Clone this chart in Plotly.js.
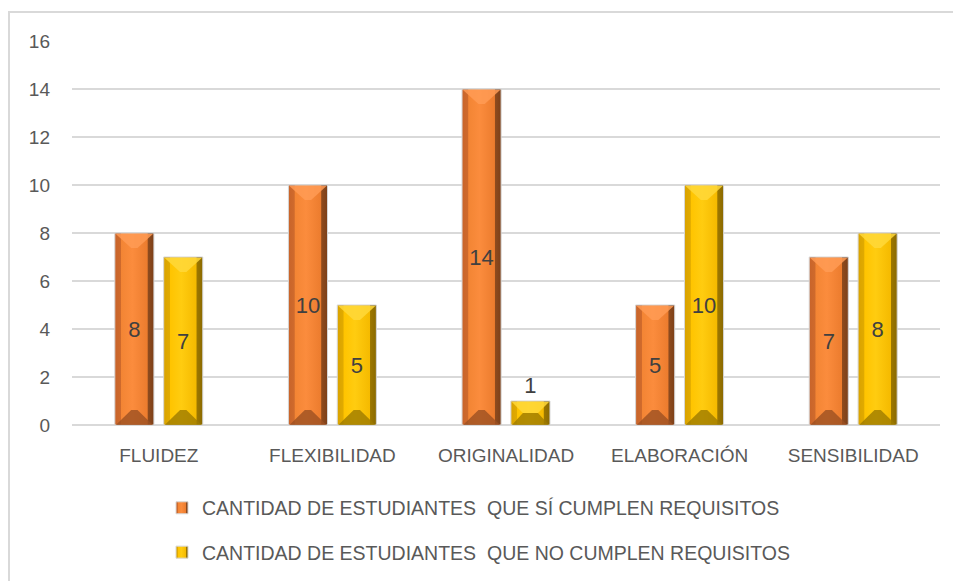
<!DOCTYPE html>
<html>
<head>
<meta charset="utf-8">
<script src="https://cdn.plot.ly/plotly-3.0.1.min.js"></script>
<style>
  html, body { margin: 0; padding: 0; background: #ffffff; overflow: hidden; }
  #chart { width: 953px; height: 581px; position: relative; }
  #frame { position: absolute; left: 8px; top: 11px; width: 2000px; height: 2000px;
           border-left: 2px solid #d9d9d9; border-top: 2px solid #d9d9d9; pointer-events: none; }
</style>
</head>
<body>
<div id="chart"></div>
<div id="frame"></div>
<script>
const categories = ["FLUIDEZ", "FLEXIBILIDAD", "ORIGINALIDAD", "ELABORACIÓN", "SENSIBILIDAD"];
const cumplen = [8, 10, 14, 5, 7];
const noCumplen = [7, 5, 1, 10, 8];
const seriesNames = [
  "CANTIDAD DE ESTUDIANTES  QUE SÍ CUMPLEN REQUISITOS",
  "CANTIDAD DE ESTUDIANTES  QUE NO CUMPLEN REQUISITOS"
];
const yTicks = [0, 2, 4, 6, 8, 10, 12, 14, 16];

const FONT = "Liberation Sans, Arial, sans-serif";
const textColor = "#404040";

const traceA = {
  type: "bar", x: categories, y: cumplen, name: seriesNames[0], legendgroup: "a",
  marker: { color: "#F0802F", line: { color: "#d6d6d6", width: 1 } },
  text: cumplen.map(String), textposition: "inside", insidetextanchor: "middle",
  textfont: { family: FONT, size: 22, color: textColor }, constraintext: "none",
  hoverinfo: "skip"
};
const traceB = {
  type: "bar", x: categories, y: noCumplen, name: seriesNames[1], legendgroup: "b",
  marker: { color: "#FFC000", line: { color: "#d6d6d6", width: 1 } },
  text: noCumplen.map(String),
  textposition: noCumplen.map(v => v < 2 ? "outside" : "inside"), insidetextanchor: "middle",
  textfont: { family: FONT, size: 22, color: textColor }, constraintext: "none",
  cliponaxis: false, hoverinfo: "skip"
};

const layout = {
  width: 953, height: 581,
  margin: { l: 72, r: 13, t: 41, b: 156, autoexpand: false },
  paper_bgcolor: "#ffffff", plot_bgcolor: "#ffffff",
  font: { family: FONT, color: "#595959", size: 19 },
  barmode: "group", bargap: 0.437, bargroupgap: 0.2,
  xaxis: {
    showgrid: false, zeroline: false, showline: false, ticks: "",
    tickfont: { family: FONT, size: 19, color: "#595959" }, ticklabelstandoff: 17,
    fixedrange: true
  },
  yaxis: {
    range: [0, 16], tickvals: yTicks, ticktext: yTicks.map(String),
    showgrid: true, gridcolor: "#d9d9d9", gridwidth: 1.5, zeroline: true, zerolinecolor: "#d9d9d9",
    zerolinewidth: 1.5, showline: false, ticks: "",
    tickfont: { family: FONT, size: 19, color: "#595959" }, ticklabelstandoff: 21,
    fixedrange: true
  },
  showlegend: true,
  legend: {
    orientation: "v", xref: "container", yref: "container",
    x: 0.170, xanchor: "left", y: 0.159, yanchor: "top",
    font: { family: FONT, size: 19.5, color: "#595959" },
    tracegroupgap: 16, itemwidth: 30, traceorder: "grouped",
    bgcolor: "rgba(0,0,0,0)"
  }
};

const grads = [
  { id: "gA", stops: [[0, "#C8642A"], [0.15, "#CF6A2C"], [0.17, "#F38534"], [0.45, "#FB8C3D"], [0.83, "#EC7C2E"], [0.85, "#8E4B1E"], [1, "#7C3F18"]],
    top: "#FF9B55", bot: "#9C5022" },
  { id: "gB", stops: [[0, "#D9A200"], [0.15, "#E0AA00"], [0.17, "#FFC400"], [0.45, "#FFCC10"], [0.83, "#F5BA00"], [0.85, "#9C7700"], [1, "#8A6900"]],
    top: "#FFD83A", bot: "#9E7A00" }
];

Plotly.newPlot("chart", [traceA, traceB], layout, { displayModeBar: false, staticPlot: true }).then(gd => {
  const NS = "http://www.w3.org/2000/svg";
  const svg = gd.querySelector(".main-svg");
  let defs = svg.querySelector("defs");
  if (!defs) { defs = document.createElementNS(NS, "defs"); svg.insertBefore(defs, svg.firstChild); }
  grads.forEach(g => {
    const lg = document.createElementNS(NS, "linearGradient");
    lg.setAttribute("id", g.id);
    lg.setAttribute("x1", "0"); lg.setAttribute("x2", "1"); lg.setAttribute("y1", "0"); lg.setAttribute("y2", "0");
    g.stops.forEach(s => {
      const st = document.createElementNS(NS, "stop");
      st.setAttribute("offset", s[0]); st.setAttribute("stop-color", s[1]);
      lg.appendChild(st);
    });
    defs.appendChild(lg);
  });
  gd.querySelectorAll(".barlayer .trace").forEach((tr, i) => {
    const g = grads[i];
    tr.querySelectorAll(".point").forEach(pt => {
      const path = pt.querySelector("path");
      if (!path) return;
      path.style.fill = "url(#" + g.id + ")";
      const bb = path.getBBox();
      const x0 = bb.x, x1 = bb.x + bb.width, y0 = bb.y, y1 = bb.y + bb.height;
      const w = Math.min(bb.width * 0.42, bb.height / 2);
      const h = Math.min(15, bb.height / 2);
      const mk = (pts, fill, op) => {
        const pg = document.createElementNS(NS, "polygon");
        pg.setAttribute("points", pts.map(p => p.join(",")).join(" "));
        pg.style.fill = fill; pg.style.opacity = op;
        path.parentNode.insertBefore(pg, path.nextSibling);
      };
      mk([[x0 + 1, y0 + 1], [x1 - 1, y0 + 1], [x1 - w, y0 + h], [x0 + w, y0 + h]], g.top, 0.85);
      mk([[x0 + 1, y1], [x1 - 1, y1], [x1 - w, y1 - h], [x0 + w, y1 - h]], g.bot, 0.8);
    });
  });
  gd.querySelectorAll(".legend .traces").forEach((t, i) => {
    const tr = t.__data__ && t.__data__[0] && t.__data__[0].trace;
    const idx = tr ? tr.index : i;
    t.querySelectorAll(".legendpoints path").forEach(p => { p.style.fill = "url(#" + grads[idx].id + ")"; });
  });
});
</script>
</body>
</html>
